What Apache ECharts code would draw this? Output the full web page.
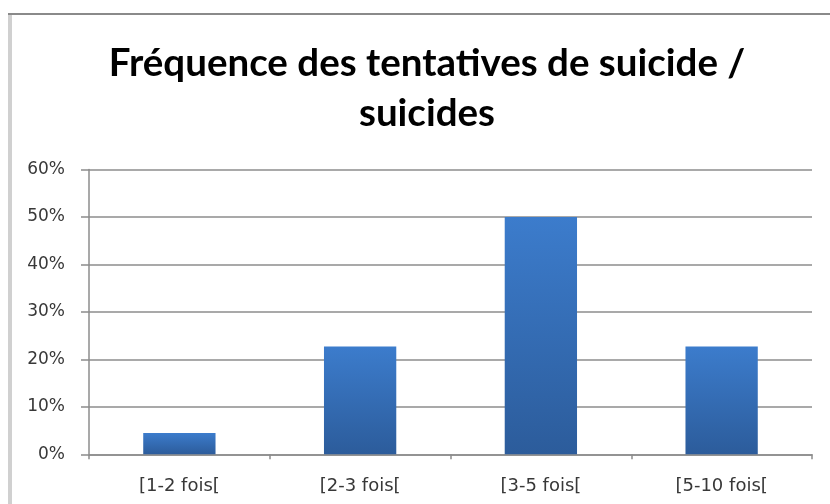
<!DOCTYPE html>
<html>
<head>
<meta charset="utf-8">
<script src="https://cdn.jsdelivr.net/npm/echarts@6/dist/echarts.min.js"></script>
<style>html,body{margin:0;padding:0;background:#fff;}#c{width:830px;height:504px;}</style>
</head>
<body>
<div id="c"></div>
<script>
const categories = ['[1-2 fois[', '[2-3 fois[', '[3-5 fois[', '[5-10 fois['];
const values = [4.5, 22.7, 50, 22.7];
const titleText = 'Fréquence des tentatives de suicide /\nsuicides';
const yMin = 0, yMax = 60, yStep = 10;

const chart = echarts.init(document.getElementById('c'), null, {renderer: 'canvas'});
chart.setOption({
  animation: false,
  backgroundColor: '#fff',
  graphic: [
    {type: 'rect', shape: {x: 8, y: 13, width: 830, height: 2}, style: {fill: '#8a8a8a'}, silent: true},
    {type: 'rect', shape: {x: 8, y: 15, width: 4, height: 500}, style: {fill: '#d0d0d0'}, silent: true}
  ],
  title: {
    text: titleText,
    left: 422,
    top: 34,
    textAlign: 'center',
    textStyle: {fontFamily: 'Lato', fontWeight: 'bold', fontSize: 38.5, lineHeight: 50, color: '#000'}
  },
  grid: {left: 89, right: 18, top: 169.5, bottom: 49.7, containLabel: false},
  xAxis: {
    type: 'category',
    data: categories,
    axisLine: {lineStyle: {color: '#8c8c8c', width: 1.5}},
    axisTick: {show: true, length: 5, lineStyle: {color: '#8c8c8c', width: 1.5}},
    axisLabel: {margin: 23, fontFamily: 'DejaVu Sans', fontSize: 18, color: '#383838'}
  },
  yAxis: {
    type: 'value',
    min: yMin, max: yMax, interval: yStep,
    axisLine: {show: true, lineStyle: {color: '#8c8c8c', width: 1.5}},
    axisTick: {show: true, length: 8, lineStyle: {color: '#8c8c8c', width: 1.5}},
    splitLine: {lineStyle: {color: '#8c8c8c', width: 1.5}},
    axisLabel: {margin: 24, formatter: '{value}%', fontFamily: 'DejaVu Sans', fontSize: 17, color: '#383838'}
  },
  series: [{
    type: 'bar',
    data: values,
    barWidth: '40%',
    itemStyle: {
      color: new echarts.graphic.LinearGradient(0, 0, 0, 1, [
        {offset: 0, color: '#3c7ccc'},
        {offset: 1, color: '#2c5c9b'}
      ])
    }
  }]
});
</script>
</body>
</html>
